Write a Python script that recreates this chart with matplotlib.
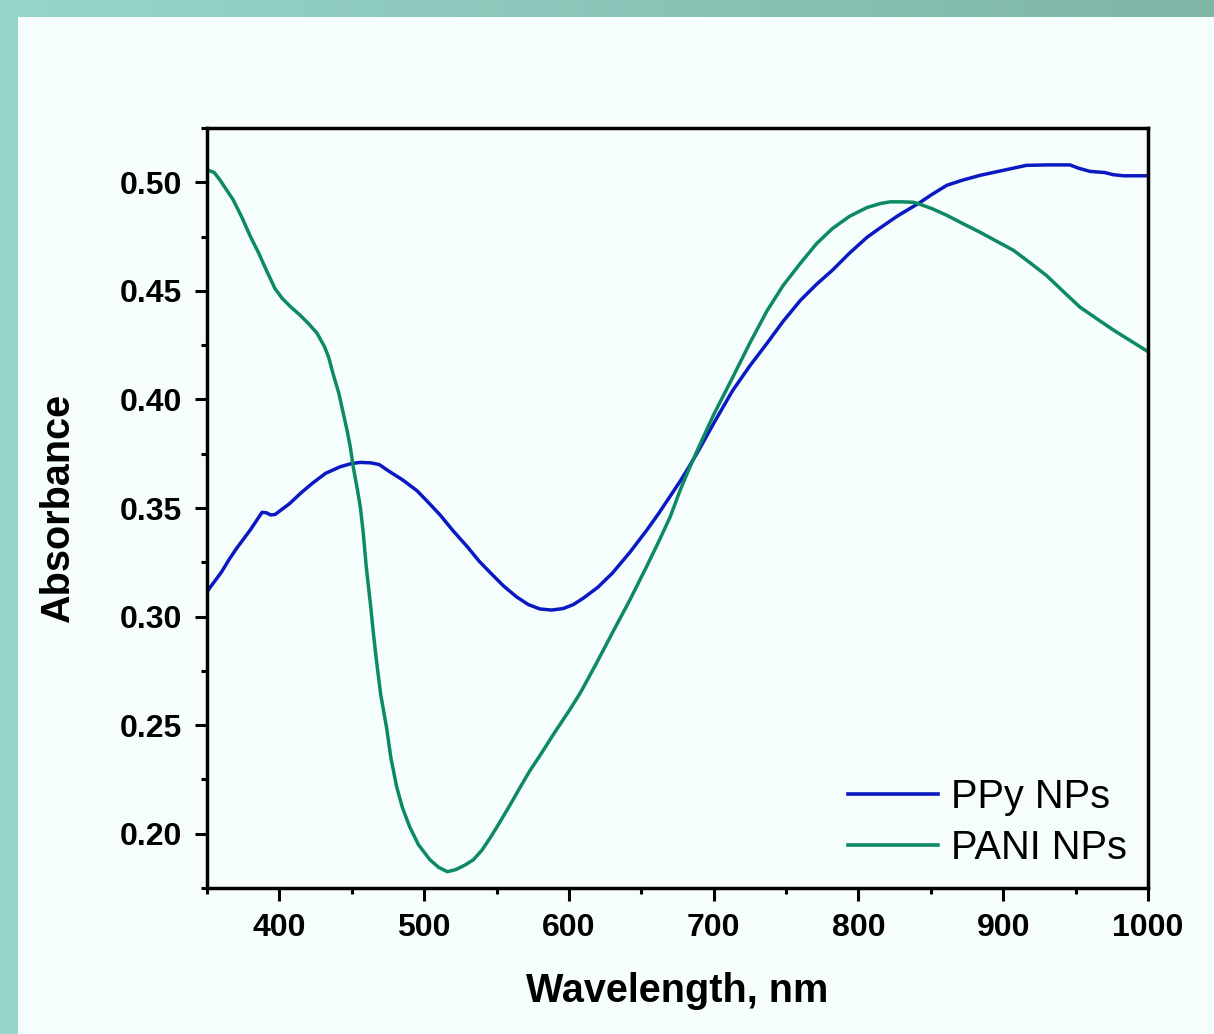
import numpy as np
import matplotlib
matplotlib.use("Agg")
import matplotlib.pyplot as plt
from matplotlib.patches import Rectangle
from matplotlib.ticker import FixedLocator, FormatStrFormatter

# ---- data ----
ppy_wl = [350, 355, 360, 365, 370, 375, 380, 385, 388, 391, 394, 397, 400, 407,
          415, 423, 432, 442, 450, 456, 463, 469, 476, 485, 495, 503, 511, 520,
          530, 538, 546, 555, 564, 572, 580, 588, 596, 603, 610, 620, 630, 642,
          654, 662, 670, 677, 683, 690, 700, 713, 725, 737, 748, 760, 771, 782,
          794, 806, 815, 827, 842, 851, 861, 872, 884, 900, 916, 930, 946, 952,
          960, 970, 976, 983, 1000]
ppy_abs = [0.3115, 0.316, 0.3205, 0.326, 0.331, 0.3355, 0.340, 0.345, 0.348,
           0.3478, 0.3468, 0.347, 0.3485, 0.352, 0.357, 0.3615, 0.366, 0.369,
           0.3705, 0.371, 0.3708, 0.370, 0.3668, 0.363, 0.358, 0.3525, 0.3468,
           0.3395, 0.332, 0.3255, 0.320, 0.314, 0.309, 0.3055, 0.3035, 0.303,
           0.3037, 0.3055, 0.3085, 0.3135, 0.320, 0.3295, 0.340, 0.3475, 0.3555,
           0.3625, 0.369, 0.377, 0.389, 0.404, 0.4155, 0.426, 0.436, 0.4457,
           0.453, 0.4595, 0.4675, 0.4747, 0.479, 0.4845, 0.4905, 0.4945, 0.4986,
           0.501, 0.5032, 0.5055, 0.5078, 0.508, 0.508, 0.5065, 0.505, 0.5045,
           0.5035, 0.503, 0.503]

pani_wl = [350, 351, 355, 359, 363, 368, 374, 380, 386, 391, 397, 402, 408, 414,
           420, 426, 431, 434, 437, 441, 444, 447, 449, 451, 454, 456, 458, 460,
           463, 465, 467, 470, 474, 477, 481, 485, 490, 496, 504, 510, 516, 522,
           528, 534, 540, 546, 552, 560, 566, 573, 580, 590, 600, 608, 619, 630,
           642, 654, 662, 670, 677, 683, 690, 700, 713, 725, 737, 748, 760, 771,
           782, 794, 806, 815, 822, 830, 838, 842, 851, 861, 872, 884, 895, 907,
           918, 930, 941, 953, 965, 976, 988, 1000]
pani_abs = [0.505, 0.5055, 0.5045, 0.501, 0.497, 0.492, 0.484, 0.475, 0.467,
            0.4595, 0.451, 0.4465, 0.4425, 0.4390, 0.435, 0.4305, 0.4245, 0.4195,
            0.412, 0.403, 0.394, 0.385, 0.378, 0.369, 0.358, 0.350, 0.338, 0.323,
            0.305, 0.292, 0.280, 0.264, 0.249, 0.235, 0.2216, 0.212, 0.2032, 0.195,
            0.188, 0.1845, 0.1825, 0.1835, 0.1855, 0.188, 0.1925, 0.1985, 0.205,
            0.214, 0.221, 0.229, 0.236, 0.2465, 0.2565, 0.265, 0.2785, 0.2925,
            0.3075, 0.3235, 0.3345, 0.346, 0.3585, 0.368, 0.3785, 0.393, 0.410,
            0.426, 0.441, 0.4525, 0.4628, 0.4717, 0.4787, 0.4844, 0.4884, 0.4902,
            0.491, 0.491, 0.4908, 0.490, 0.4878, 0.4848, 0.481, 0.477, 0.473,
            0.4687, 0.4632, 0.457, 0.450, 0.4425, 0.437, 0.432, 0.427, 0.422]

series_labels = ["PPy NPs", "PANI NPs"]
xlabel = "Wavelength, nm"
ylabel = "Absorbance"
x_major = [400, 500, 600, 700, 800, 900, 1000]
x_minor = [350, 450, 550, 650, 750, 850, 950]
y_major = [0.20, 0.25, 0.30, 0.35, 0.40, 0.45, 0.50]
y_minor = [0.175, 0.225, 0.275, 0.325, 0.375, 0.425, 0.475, 0.525]

# ---- style ----
BG = "#f6fdfd"
BLUE = "#0b19c2"
GREEN = "#0d8a63"
plt.rcParams["font.family"] = ["Liberation Sans", "DejaVu Sans"]

W, H = 1214, 1034
fig = plt.figure(figsize=(W / 100, H / 100), dpi=100, facecolor=BG)

# teal frame: top gradient strip and left strip
top_h = 17 / H
gax = fig.add_axes([0, 1 - top_h, 1, top_h])
grad = np.linspace(0, 1, 256)[None, :, None]
c0 = np.array([0x96, 0xd6, 0xca]) / 255
c1 = np.array([0x7e, 0xb6, 0xa7]) / 255
img = c0 * (1 - grad) + c1 * grad
gax.imshow(img, aspect="auto", extent=[0, 1, 0, 1])
gax.set_axis_off()
fig.patches.append(Rectangle((0, 0), 18 / W, 1, transform=fig.transFigure,
                             facecolor="#96d6ca", edgecolor="none", zorder=0))

left, right, bottom, top = 207 / W, 1148 / W, 1 - 888 / H, 1 - 128 / H
ax = fig.add_axes([left, bottom, right - left, top - bottom], facecolor=BG)

ax.plot(ppy_wl, ppy_abs, color=BLUE, lw=2.5, label=series_labels[0],
        solid_joinstyle="round")
ax.plot(pani_wl, pani_abs, color=GREEN, lw=2.5, label=series_labels[1],
        solid_joinstyle="round")

ax.set_xlim(350, 1000)
ax.set_ylim(0.175, 0.525)
ax.xaxis.set_major_locator(FixedLocator(x_major))
ax.xaxis.set_minor_locator(FixedLocator(x_minor))
ax.yaxis.set_major_locator(FixedLocator(y_major))
ax.yaxis.set_minor_locator(FixedLocator(y_minor))
ax.yaxis.set_major_formatter(FormatStrFormatter("%.2f"))

for s in ax.spines.values():
    s.set_linewidth(2.5)
ax.tick_params(which="major", direction="out", length=9, width=2.2)
ax.tick_params(which="minor", direction="out", length=4.5, width=2.2)
ax.tick_params(axis="x", which="major", pad=9, labelsize=23)
ax.tick_params(axis="y", which="major", pad=9, labelsize=23)
for lbl in ax.get_xticklabels() + ax.get_yticklabels():
    lbl.set_fontweight("bold")

ax.set_xlabel(xlabel, fontsize=28.5, fontweight="bold")
ax.set_ylabel(ylabel, fontsize=28.5, fontweight="bold")
ax.xaxis.set_label_coords(0.5, -0.110)
ax.yaxis.set_label_coords(-0.138, 0.5)

leg = ax.legend(loc="lower right", fontsize=28.6, frameon=False,
                handlelength=2.27, handletextpad=0.33, labelspacing=0.32,
                borderaxespad=0.3, bbox_to_anchor=(1.0074, -0.009))
for line in leg.get_lines():
    line.set_linewidth(2.6)

fig.savefig("out.png", dpi=100, facecolor=BG)
